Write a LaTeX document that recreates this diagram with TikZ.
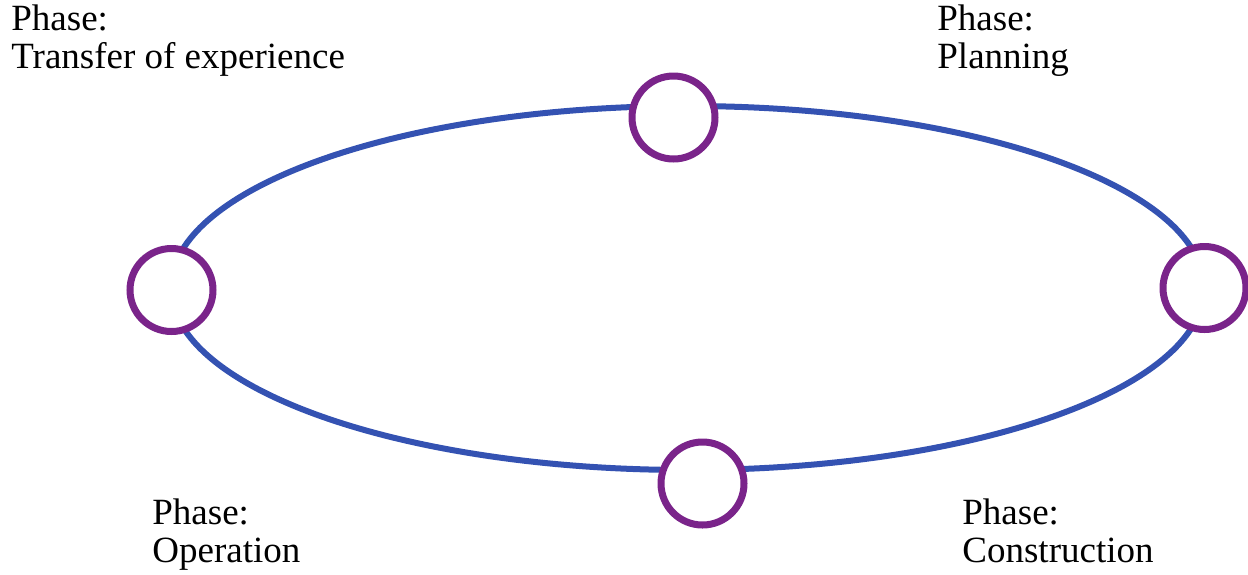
\documentclass[tikz,border=0pt]{standalone}
\usepackage{fontspec}
\setmainfont{Liberation Serif}
\usepackage{xcolor}
\usepackage{tikz}
\usetikzlibrary{positioning}
\definecolor{ringblue}{RGB}{52,82,178}
\definecolor{phasepurple}{RGB}{122,36,138}

\begin{document}
\begin{tikzpicture}[
    x=0.5pt, y=-0.5pt,
    ring/.style={draw=ringblue, line width=3pt},
    milestone/.style={circle, draw=phasepurple, fill=white, line width=3.5pt, minimum size=41.5pt, inner sep=0pt},
    phase/.style={anchor=base west, align=left, inner sep=0pt, font=\fontsize{18.5}{19}\selectfont}
]
\useasboundingbox (0,0) rectangle (1248,574);
\draw[ring] (687.5,288) ellipse [x radius=258.25pt, y radius=91pt];
\node[milestone] (ctop) at (673.5,117.5) {};
\node[milestone] (cleft) at (171.5,290) {};
\node[milestone] (cright) at (1204.5,288) {};
\node[milestone] (cbottom) at (702.5,483.5) {};
\node[phase] (transfer) at (11,68) {Phase:\\Transfer of experience};
\node[phase] (planning) at (937,68) {Phase:\\Planning};
\node[phase] (operation) at (152,562) {Phase:\\Operation};
\node[phase] (construction) at (962,562) {Phase:\\Construction};
\end{tikzpicture}
\end{document}
